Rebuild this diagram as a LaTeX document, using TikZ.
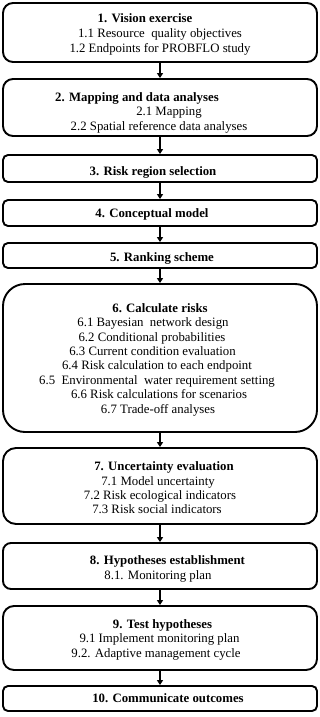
\documentclass[tikz,border=0pt]{standalone}
\usepackage{fontspec}
\setmainfont{Liberation Serif}
\usetikzlibrary{arrows.meta}
\begin{document}
\begin{tikzpicture}[x=1pt,y=-1pt,
  box/.style={draw=black,line width=1.9pt,inner sep=0pt,minimum width=314pt},
  ttl/.style={font=\fontsize{12.8}{14}\selectfont\bfseries,inner sep=0pt,anchor=base},
  itm/.style={font=\fontsize{12.8}{14}\selectfont,inner sep=0pt,anchor=base},
  arr/.style={line width=1.4pt,-{Triangle[width=6pt,length=5pt]}}]
\useasboundingbox (0,0) rectangle (320,717);
% boxes
\node[box,rounded corners=10pt,minimum height=59pt] (b1) at (160,32.5) {};
\node[box,rounded corners=10pt,minimum height=57pt] (b2) at (160,107.5) {};
\node[box,rounded corners=5pt,minimum height=27pt] (b3) at (160,168.5) {};
\node[box,rounded corners=5pt,minimum height=26pt] (b4) at (160,213) {};
\node[box,rounded corners=5pt,minimum height=25pt] (b5) at (160,255.5) {};
\node[box,rounded corners=22pt,minimum height=148pt] (b6) at (160,358) {};
\node[box,rounded corners=13pt,minimum height=76pt] (b7) at (160,486) {};
\node[box,rounded corners=8pt,minimum height=46pt] (b8) at (160,566) {};
\node[box,rounded corners=11pt,minimum height=64pt] (b9) at (160,638) {};
\node[box,rounded corners=5pt,minimum height=25pt] (b10) at (160,698.5) {};
% arrows
\foreach \a/\b in {b1/b2,b2/b3,b3/b4,b4/b5,b5/b6,b6/b7,b7/b8,b8/b9,b9/b10}
  \draw[arr] (\a.south) -- (\b.north);
% texts (baselines)
\node[ttl] (t1) at (145,22.5) {1. Vision exercise};
\node[itm] (t11) at (160,37.5) {1.1 Resource\ \ quality objectives};
\node[itm] (t12) at (160,52.5) {1.2 Endpoints for PROBFLO study};
\node[ttl] (t2) at (137,101.5) {2. Mapping and data analyses};
\node[itm] (t21) at (169,115) {2.1 Mapping};
\node[itm] (t22) at (159,130.5) {2.2 Spatial reference data analyses};
\node[ttl] (t3) at (153,175.5) {3. Risk region selection};
\node[ttl] (t4) at (152,217.5) {4. Conceptual model};
\node[ttl] (t5) at (162,261.5) {5. Ranking scheme};
\node[ttl] (t6) at (160,312.5) {6. Calculate risks};
\node[itm] (t61) at (153,326.5) {6.1 Bayesian\ \ network design};
\node[itm] (t62) at (152,341) {6.2 Conditional probabilities};
\node[itm] (t63) at (152.5,355.5) {6.3 Current condition evaluation};
\node[itm] (t64) at (157,369.5) {6.4 Risk calculation to each endpoint};
\node[itm] (t65) at (157,384) {6.5\ \ Environmental\ \ water requirement setting};
\node[itm] (t66) at (159,398.5) {6.6 Risk calculations for scenarios};
\node[itm] (t67) at (158,413) {6.7 Trade-off analyses};
\node[ttl] (t7) at (164,470.5) {7. Uncertainty evaluation};
\node[itm] (t71) at (158,485) {7.1 Model uncertainty};
\node[itm] (t72) at (160,499) {7.2 Risk ecological indicators};
\node[itm] (t73) at (157,513.5) {7.3 Risk social indicators};
\node[ttl] (t8) at (167.5,564) {8. Hypotheses establishment};
\node[itm] (t81) at (158,579) {8.1. Monitoring plan};
\node[ttl] (t9) at (162.5,628) {9. Test hypotheses};
\node[itm] (t91) at (159.5,642.5) {9.1 Implement monitoring plan};
\node[itm] (t92) at (156,657) {9.2. Adaptive management cycle};
\node[ttl] (t10) at (168,702.5) {10. Communicate outcomes};
\end{tikzpicture}
\end{document}
